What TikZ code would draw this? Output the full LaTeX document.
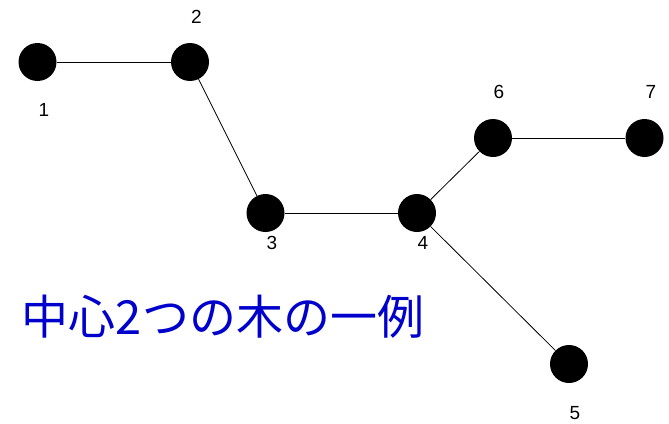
\documentclass[tikz,border=0pt]{standalone}
\usepackage{fontspec}
\setmainfont{Liberation Sans}
\newfontfamily\cjk{Noto Sans CJK JP}
\definecolor{titleblue}{RGB}{0,0,204}
\begin{document}
\begin{tikzpicture}[x=1pt,y=-1pt,
  vtx/.style={circle,fill=black,minimum size=38pt,inner sep=0pt},
  lbl/.style={font=\fontsize{19}{22}\selectfont,inner sep=0pt},
  edge/.style={line width=0.8pt}]
\useasboundingbox (0,0) rectangle (669,423);
\node[vtx] (n1) at (37.5,62) {};
\node[vtx] (n2) at (190,62) {};
\node[vtx] (n3) at (265.5,213) {};
\node[vtx] (n4) at (417,213) {};
\node[vtx] (n6) at (493,138) {};
\node[vtx] (n7) at (644.5,138) {};
\node[vtx] (n5) at (569,364) {};
\draw[edge] (n1) -- (n2);
\draw[edge] (n2) -- (n3);
\draw[edge] (n3) -- (n4);
\draw[edge] (n4) -- (n6);
\draw[edge] (n6) -- (n7);
\draw[edge] (n4) -- (n5);
\node[lbl] (l1) at (44,110) {1};
\node[lbl] (l2) at (196.5,17) {2};
\node[lbl] (l3) at (272,243) {3};
\node[lbl] (l4) at (423,243) {4};
\node[lbl] (l6) at (499,92) {6};
\node[lbl] (l7) at (651,92) {7};
\node[lbl] (l5) at (575,413) {5};
\node[inner sep=0pt,text=titleblue,font=\cjk\fontsize{47}{52}\selectfont] (title) at (223,317) {中心2つの木の一例};
\end{tikzpicture}
\end{document}
